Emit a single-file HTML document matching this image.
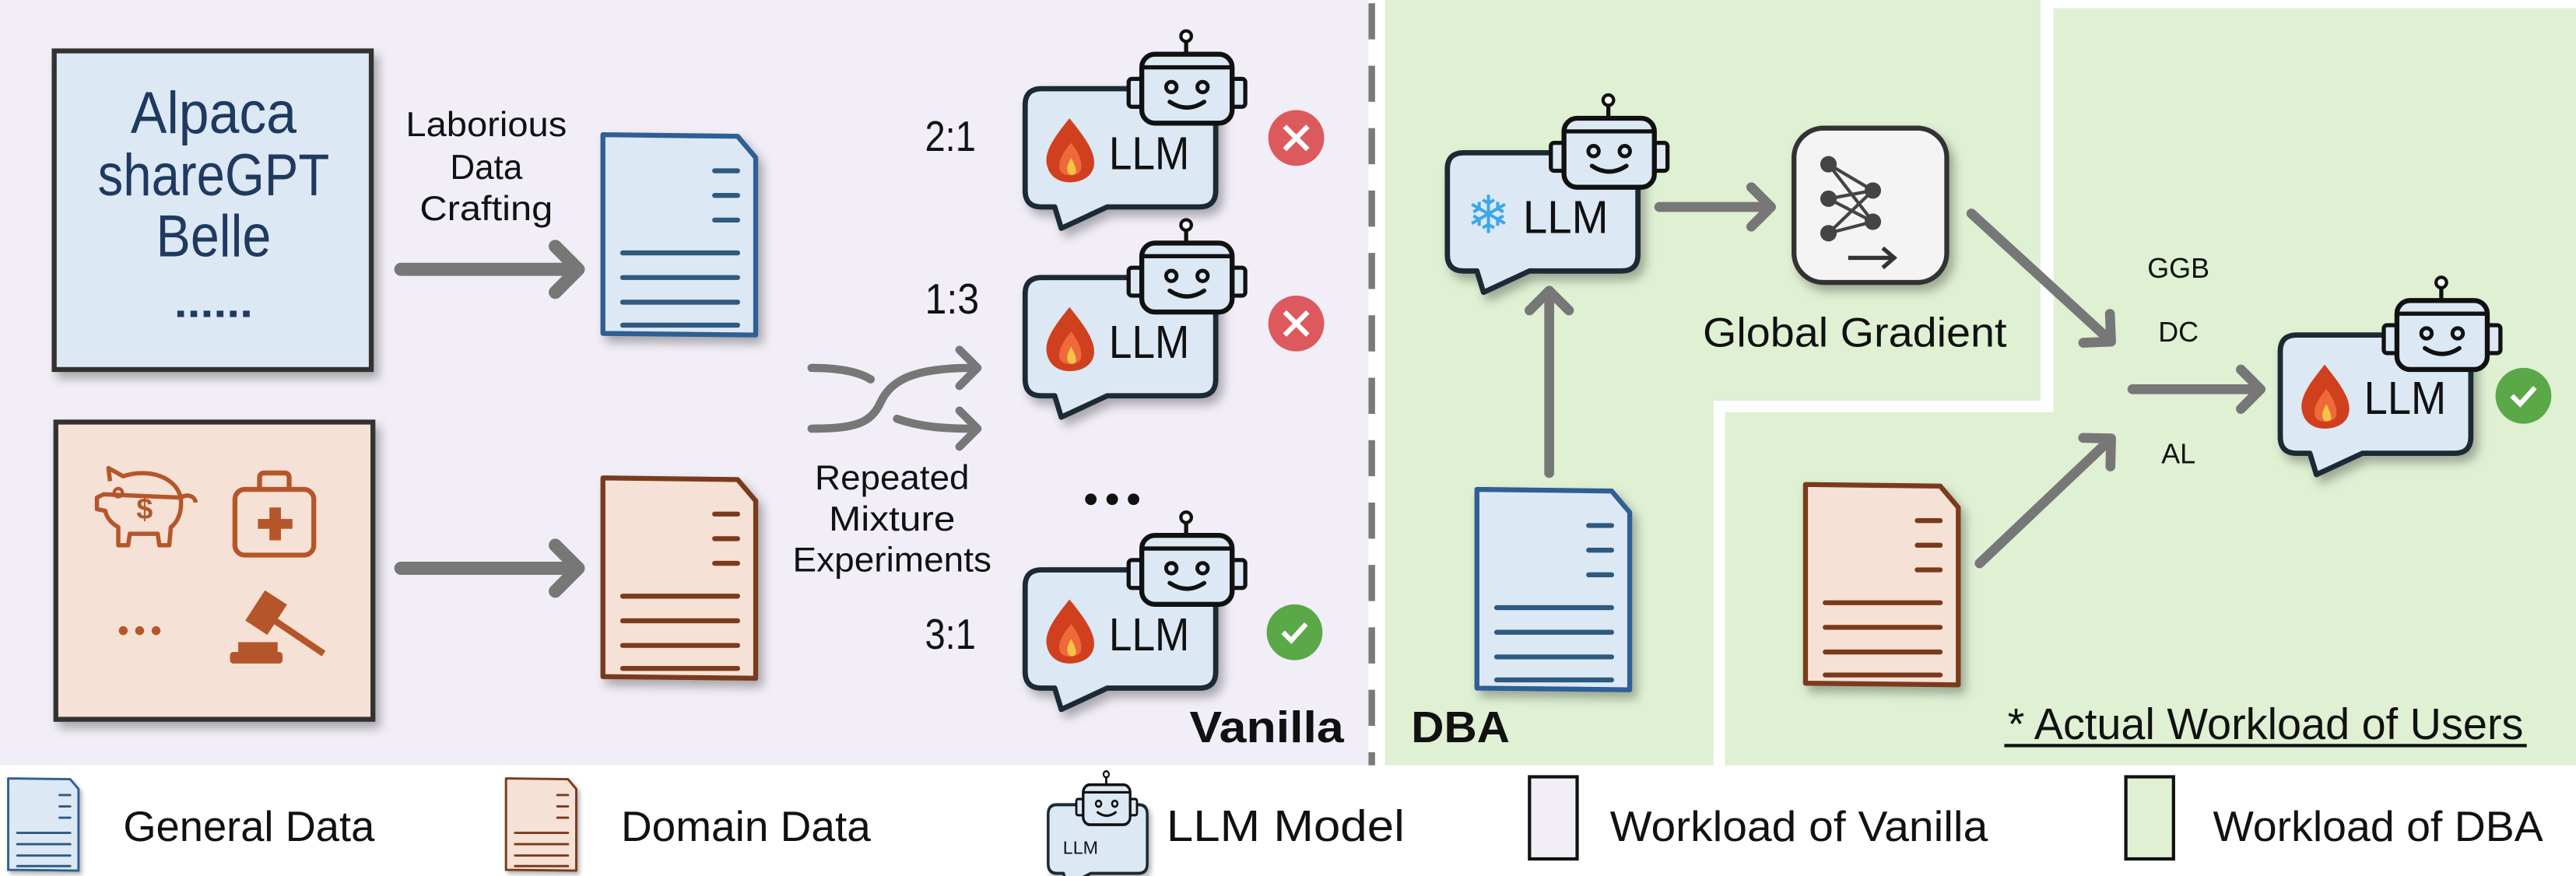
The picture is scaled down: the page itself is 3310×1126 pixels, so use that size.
<!DOCTYPE html>
<html><head><meta charset="utf-8"><style>
html,body{margin:0;padding:0;background:#fff;}
svg{display:block;}
text{font-family:"Liberation Sans",sans-serif;fill:#111;}
</style></head><body>
<svg width="3310" height="1126" viewBox="0 0 1568 533.4" xmlns="http://www.w3.org/2000/svg">
<defs>
<filter id="sh" x="-20%" y="-20%" width="150%" height="150%">
<feDropShadow dx="3" dy="4" stdDeviation="3" flood-color="#000" flood-opacity="0.3"/>
</filter>
<g id="bubble">
<path d="M10,0 H106 Q116,0 116,10 V62 Q116,72 106,72 H50 L22,85 L18,72 H10 Q0,72 0,62 V10 Q0,0 10,0 Z" fill="#dce8f4" stroke="#1c2b36" stroke-width="3.2" stroke-linejoin="round" filter="url(#sh)"/>
</g>
<g id="robot">
<line x1="98" y1="-29" x2="98" y2="-21" stroke="#111" stroke-width="2.5"/>
<circle cx="98" cy="-32" r="3.2" fill="#fff" stroke="#111" stroke-width="2"/>
<rect x="63" y="-6" width="9" height="17" rx="2" fill="#dce8f4" stroke="#111" stroke-width="2.5"/>
<rect x="125" y="-6" width="9" height="17" rx="2" fill="#dce8f4" stroke="#111" stroke-width="2.5"/>
<rect x="71" y="-21" width="55" height="42" rx="8" fill="#dce8f4" stroke="#111" stroke-width="3"/>
<line x1="71" y1="-13" x2="126" y2="-13" stroke="#111" stroke-width="2.5"/>
<circle cx="89" cy="-1" r="3.2" fill="none" stroke="#111" stroke-width="2.3"/>
<circle cx="108" cy="-1" r="3.2" fill="none" stroke="#111" stroke-width="2.3"/>
<path d="M88,8 Q98.5,15 109,8" fill="none" stroke="#111" stroke-width="2.6" stroke-linecap="round"/>
</g>
<g id="flame">
<path d="M27,18 C19,28 12,37 13,45 C14,53 20,57 27,57 C35,57 42,53 42,45 C42,37 35,28 27,18 Z" fill="#d0401f"/>
<path d="M28,33 C23,39 20,44 21,49 C22,54 33,54 34,49 C35,44 32,38 28,33 Z" fill="#ee6a3a"/>
<path d="M28,42 C26,46 25,48 26,51 C27,53 30,53 31,51 C31,48 30,46 28,42 Z" fill="#f6c445"/>
</g>
<g id="docb">
<path d="M0,0 L82,1 L93,14 L93,122 L0,121 Z" fill="#dde8f5" stroke="#2e5e95" stroke-width="3" stroke-linejoin="round" filter="url(#sh)"/>
<g stroke="#2d5a80" stroke-width="3" stroke-linecap="round">
<line x1="68" y1="22" x2="82" y2="22"/><line x1="68" y1="37" x2="82" y2="37"/><line x1="68" y1="52" x2="82" y2="52"/>
<line x1="12" y1="72" x2="82" y2="72"/><line x1="12" y1="87" x2="82" y2="87"/><line x1="12" y1="102" x2="82" y2="102"/><line x1="12" y1="116" x2="82" y2="116"/>
</g>
</g>
<g id="doco">
<path d="M0,0 L82,1 L93,14 L93,122 L0,121 Z" fill="#f6e1d6" stroke="#7a3a1c" stroke-width="3" stroke-linejoin="round" filter="url(#sh)"/>
<g stroke="#7a3a1c" stroke-width="3" stroke-linecap="round">
<line x1="68" y1="22" x2="82" y2="22"/><line x1="68" y1="37" x2="82" y2="37"/><line x1="68" y1="52" x2="82" y2="52"/>
<line x1="12" y1="72" x2="82" y2="72"/><line x1="12" y1="87" x2="82" y2="87"/><line x1="12" y1="102" x2="82" y2="102"/><line x1="12" y1="116" x2="82" y2="116"/>
</g>
</g>
</defs>

<!-- panels -->
<rect x="0" y="0" width="833" height="466" fill="#f2eef7"/>
<path d="M843,0 H1242 V244 H1043 V466 H843 Z" fill="#dff0d3"/>
<path d="M1250,5 H1568 V466 H1050 V251 H1250 Z" fill="#dff0d3"/>
<line x1="835" y1="2" x2="835" y2="466" stroke="#7a7a7a" stroke-width="4" stroke-dasharray="22,16"/>

<!-- Alpaca box -->
<rect x="33" y="31" width="193" height="194" fill="#dde8f5" stroke="#333" stroke-width="3" filter="url(#sh)"/>
<g font-size="36" text-anchor="middle">
<text x="130" y="81" textLength="101" lengthAdjust="spacingAndGlyphs" style="fill:#1f3a5f">Alpaca</text>
<text x="130" y="119" textLength="141" lengthAdjust="spacingAndGlyphs" style="fill:#1f3a5f">shareGPT</text>
<text x="130" y="156" textLength="70" lengthAdjust="spacingAndGlyphs" style="fill:#1f3a5f">Belle</text>
<text x="130" y="193" font-size="26" textLength="48" lengthAdjust="spacingAndGlyphs" style="fill:#1f3a5f;font-weight:bold">......</text>
</g>
<!-- Domain box -->
<rect x="34" y="257" width="193" height="181" fill="#f6e1d6" stroke="#333" stroke-width="3" filter="url(#sh)"/>
<g fill="none" stroke="#b5562a" stroke-width="2.6" stroke-linejoin="round">
<path d="M67,293 L66,285 L75,290 C90,285 107,290 110,303 C115,300 119,303 119,306 M110,303 C111,312 108,318 104,321 L103,332 L97,332 L96,325 L79,325 L78,332 L72,332 L72,321 C67,318 65,315 64,311 L59,310 L59,303 L63,301 Z"/>
<rect x="143" y="298" width="48" height="40" rx="6" stroke-width="3"/>
<path d="M158,298 V291 Q158,288 161,288 H173 Q176,288 176,291 V298" stroke-width="3"/>
</g>
<circle cx="72" cy="300" r="2.5" fill="none" stroke="#b5562a" stroke-width="2"/>
<text x="88" y="316" font-size="18" text-anchor="middle" style="fill:#b5562a;font-weight:bold">$</text>
<rect x="164" y="309" width="7" height="20" fill="#b5562a"/><rect x="157" y="316" width="21" height="6" fill="#b5562a"/>
<g fill="#b5562a">
<rect x="154" y="362" width="16" height="22" transform="rotate(33 162 373)"/>
<line x1="166" y1="377" x2="197" y2="398" stroke="#b5562a" stroke-width="4"/>
<rect x="145" y="391" width="24" height="6"/>
<rect x="140" y="397" width="32" height="7" rx="2"/>
<circle cx="75" cy="384" r="2.7"/><circle cx="85" cy="384" r="2.7"/><circle cx="95" cy="384" r="2.7"/>
</g>

<!-- arrows -->
<g fill="none" stroke="#777" stroke-linecap="round" stroke-linejoin="round">
<g stroke-width="8">
<path d="M244,164 H349 M338,150 L352,164 L338,178"/>
<path d="M244,346 H349 M338,332 L352,346 L338,360"/>
</g>
<g stroke-width="6">
<path d="M943,288 V180 M931,189 L943,177 L955,189"/>
<path d="M1010,126 H1075 M1066,114 L1078,126 L1066,138"/>
<path d="M1200,130 L1283,206 M1268.1,208.7 L1285,208 L1284.3,191.1"/>
<path d="M1298,237 H1373 M1364,225 L1376,237 L1364,249"/>
<path d="M1205,343 L1283,269 M1284.6,284 L1285,267 L1268,266.6"/>
</g>
<g stroke-width="5">
<path d="M494,224 C510,224 522,226 530,231"/>
<path d="M494,261 C520,261 530,258 536,245 C542,232 555,224 592,224"/>
<path d="M546,255 C560,260 575,261 592,261"/>
<path d="M584,213 L595,224 L584,235"/>
<path d="M584,250 L595,261 L584,272"/>
</g>
</g>

<g font-size="21" text-anchor="middle">
<text x="296" y="83" textLength="98" lengthAdjust="spacingAndGlyphs">Laborious</text>
<text x="296" y="109" textLength="44" lengthAdjust="spacingAndGlyphs">Data</text>
<text x="296" y="134" textLength="81" lengthAdjust="spacingAndGlyphs">Crafting</text>
<text x="543" y="298" textLength="94" lengthAdjust="spacingAndGlyphs">Repeated</text>
<text x="543" y="323" textLength="77" lengthAdjust="spacingAndGlyphs">Mixture</text>
<text x="543" y="348" textLength="121" lengthAdjust="spacingAndGlyphs">Experiments</text>
</g>
<use href="#docb" x="367" y="82"/>
<use href="#doco" x="367" y="291"/>

<!-- vanilla LLMs -->
<g font-size="26">
<text x="563" y="92" textLength="31" lengthAdjust="spacingAndGlyphs">2:1</text>
<text x="563" y="191" textLength="33" lengthAdjust="spacingAndGlyphs">1:3</text>
<text x="563" y="395" textLength="31" lengthAdjust="spacingAndGlyphs">3:1</text>
</g>
<g transform="translate(624,54)"><use href="#bubble"/><use href="#flame"/><use href="#robot"/><text x="51" y="49" font-size="28" textLength="49" lengthAdjust="spacingAndGlyphs">LLM</text></g>
<g transform="translate(624,169)"><use href="#bubble"/><use href="#flame"/><use href="#robot"/><text x="51" y="49" font-size="28" textLength="49" lengthAdjust="spacingAndGlyphs">LLM</text></g>
<g transform="translate(624,347)"><use href="#bubble"/><use href="#flame"/><use href="#robot"/><text x="51" y="49" font-size="28" textLength="49" lengthAdjust="spacingAndGlyphs">LLM</text></g>
<circle cx="664" cy="304" r="3.5" fill="#111"/><circle cx="677" cy="304" r="3.5" fill="#111"/><circle cx="690" cy="304" r="3.5" fill="#111"/>
<circle cx="789" cy="84" r="17" fill="#dc5a5e"/><path d="M782,77 L796,91 M796,77 L782,91" stroke="#fff" stroke-width="3"/>
<circle cx="789" cy="197" r="17" fill="#dc5a5e"/><path d="M782,190 L796,204 M796,190 L782,204" stroke="#fff" stroke-width="3"/>
<circle cx="788" cy="385" r="17" fill="#5aa847"/><path d="M781,385 L786,390 L795,380" fill="none" stroke="#fff" stroke-width="3"/>
<text x="724" y="452" font-size="27" textLength="94" lengthAdjust="spacingAndGlyphs" style="font-weight:bold">Vanilla</text>

<!-- DBA -->
<text x="859" y="452" font-size="27" textLength="60" lengthAdjust="spacingAndGlyphs" style="font-weight:bold">DBA</text>
<g transform="translate(881,93)"><use href="#bubble"/><use href="#robot"/>
<text x="25" y="49" font-size="32" text-anchor="middle" style="fill:#3aa8e8">❄</text>
<text x="46" y="49" font-size="28" textLength="52" lengthAdjust="spacingAndGlyphs">LLM</text></g>
<use href="#docb" x="899" y="298"/>
<rect x="1092" y="78" width="93" height="94" rx="18" fill="#f4f4f4" stroke="#333" stroke-width="3" filter="url(#sh)"/>
<g stroke="#444" stroke-width="2"><path d="M1113,100 L1140,116 M1113,100 L1140,135 M1113,121 L1140,116 M1113,121 L1140,135 M1113,142 L1140,116 M1113,142 L1140,135"/></g>
<g fill="#444"><circle cx="1113" cy="100" r="5"/><circle cx="1113" cy="121" r="5"/><circle cx="1113" cy="142" r="5"/><circle cx="1140" cy="116" r="5"/><circle cx="1140" cy="135" r="5"/></g>
<path d="M1125,157 H1153 M1146,151 L1153,157 L1146,163" fill="none" stroke="#333" stroke-width="2.5"/>
<text x="1129" y="211" font-size="25" text-anchor="middle" textLength="185" lengthAdjust="spacingAndGlyphs">Global Gradient</text>
<g font-size="17" text-anchor="middle"><text x="1326" y="169">GGB</text><text x="1326" y="208">DC</text><text x="1326" y="282">AL</text></g>
<use href="#doco" x="1099" y="295"/>
<g transform="translate(1388,204)"><use href="#bubble"/><use href="#flame"/><use href="#robot"/><text x="51" y="48" font-size="28" textLength="50" lengthAdjust="spacingAndGlyphs">LLM</text></g>
<circle cx="1536" cy="241" r="17" fill="#5aa847"/><path d="M1529,241 L1534,246 L1543,236" fill="none" stroke="#fff" stroke-width="3"/>
<text x="1222" y="450" font-size="27" textLength="314" lengthAdjust="spacingAndGlyphs">* Actual Workload of Users</text>
<line x1="1220" y1="454" x2="1538" y2="454" stroke="#111" stroke-width="2"/>

<!-- legend -->
<use href="#docb" transform="translate(5,474) scale(0.46,0.46)"/>
<text x="75" y="512" font-size="26" textLength="153" lengthAdjust="spacingAndGlyphs">General Data</text>
<use href="#doco" transform="translate(308,474) scale(0.46,0.46)"/>
<text x="378" y="512" font-size="26" textLength="152" lengthAdjust="spacingAndGlyphs">Domain Data</text>
<g transform="translate(638,490) scale(0.52,0.58)"><use href="#bubble"/><use href="#robot" x="-30"/></g>
<text x="647" y="520" font-size="11">LLM</text>
<text x="710" y="512" font-size="27" textLength="145" lengthAdjust="spacingAndGlyphs">LLM Model</text>
<rect x="931" y="473" width="29" height="50" fill="#f2eef7" stroke="#111" stroke-width="2"/>
<text x="980" y="512" font-size="26" textLength="230" lengthAdjust="spacingAndGlyphs">Workload of Vanilla</text>
<rect x="1294" y="473" width="29" height="50" fill="#dff0d3" stroke="#111" stroke-width="2"/>
<text x="1347" y="512" font-size="26" textLength="201" lengthAdjust="spacingAndGlyphs">Workload of DBA</text>
</svg>
</body></html>
